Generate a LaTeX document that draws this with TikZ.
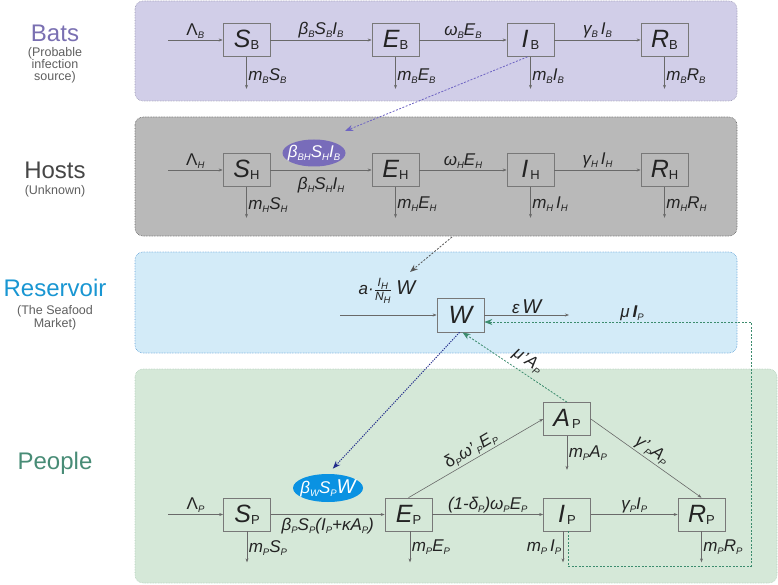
\documentclass[tikz,border=0pt]{standalone}
\usepackage{fontspec}
\setmainfont{Liberation Sans}
\usetikzlibrary{arrows.meta,shapes.geometric}
\definecolor{batsfill}{RGB}{209,206,232}
\definecolor{hostfill}{RGB}{185,185,185}
\definecolor{resfill}{RGB}{211,235,248}
\definecolor{peoplefill}{RGB}{213,232,216}
\definecolor{batsb}{RGB}{150,148,175}
\definecolor{hostb}{RGB}{95,95,95}
\definecolor{resb}{RGB}{95,160,215}
\definecolor{peopleb}{RGB}{175,205,185}
\definecolor{batsc}{RGB}{122,112,178}
\definecolor{hostc}{RGB}{70,70,70}
\definecolor{resc}{RGB}{25,150,210}
\definecolor{peoplec}{RGB}{72,140,118}
\definecolor{subc}{RGB}{95,95,95}
\definecolor{boxc}{RGB}{120,120,120}
\definecolor{linec}{RGB}{105,105,105}
\definecolor{txtc}{RGB}{35,35,35}
\definecolor{bellc}{RGB}{120,108,186}
\definecolor{pellc}{RGB}{10,146,226}
\definecolor{purpc}{RGB}{110,100,195}
\definecolor{greyd}{RGB}{85,85,85}
\definecolor{greend}{RGB}{60,140,110}
\definecolor{blued}{RGB}{35,45,140}
\newcommand\lblf{\fontsize{17}{17}\selectfont\itshape}
\newcommand\sbi[1]{\raisebox{-3pt}{\fontsize{9.5}{9.5}\selectfont\itshape #1}}
\newcommand\sbu[1]{\raisebox{-2pt}{\fontsize{13}{13}\selectfont\upshape #1}}
\newcommand\bxt[2]{{\fontsize{25}{25}\selectfont\itshape #1}\sbu{#2}}
\tikzset{
  cbox/.style={draw=boxc, line width=0.7pt, minimum width=47pt, minimum height=33pt, inner sep=0pt, text=txtc},
  flow/.style={draw=linec, line width=0.6pt, -{Stealth[length=4pt,width=3pt]}},
  lbl/.style={font=\lblf, text=txtc, inner sep=1.5pt},
  panel/.style={rounded corners=8pt, densely dotted, line width=0.6pt},
  ttl/.style={font=\fontsize{24}{24}\selectfont},
  subt/.style={font=\fontsize{12.5}{11.5}\selectfont, text=subc, align=center},
  ell/.style={ellipse, minimum width=63pt, minimum height=27pt, inner sep=0pt, text=white},
  purpd/.style={draw=purpc, line width=0.8pt, dash pattern=on 2pt off 1.5pt, -{Stealth[length=8pt,width=6pt]}},
  greyds/.style={draw=greyd, line width=0.8pt, dash pattern=on 2pt off 1.5pt, -{Stealth[length=8pt,width=6pt]}},
  greends/.style={draw=greend, line width=0.8pt, dash pattern=on 2pt off 1.5pt, -{Stealth[length=8pt,width=6pt]}},
  bluedt/.style={draw=blued, line width=1pt, dash pattern=on 1.2pt off 1.2pt, -{Stealth[length=8pt,width=6pt]}},
}
\begin{document}
\begin{tikzpicture}[x=1pt,y=-1pt]
\useasboundingbox (0,0) rectangle (778,585);
% panels
\draw[panel, draw=batsb, fill=batsfill] (135,1) rectangle (737,101);
\draw[panel, draw=hostb, fill=hostfill] (135,117) rectangle (737,236);
\draw[panel, draw=resb, fill=resfill] (135,252) rectangle (737,353);
\draw[panel, draw=peopleb, fill=peoplefill] (135,369) rectangle (777,583);
% titles
\node[ttl, text=batsc] (tb) at (55,33) {Bats};
\node[subt] (tbs) at (55,65) {(Probable\\infection\\source)};
\node[ttl, text=hostc] (th) at (55,170) {Hosts};
\node[subt] (ths) at (55,191) {(Unknown)};
\node[ttl, text=resc] (tr) at (55,288) {Reservoir};
\node[subt] (trs) at (55,318) {(The Seafood\\Market)};
\node[ttl, text=peoplec] (tp) at (55,463) {People};
% bats row
\node[cbox] (SB) at (246.5,40) {\bxt{S}{B}};
\node[cbox] (EB) at (395.5,40) {\bxt{E}{B}};
\node[cbox] (IB) at (530.5,40) {\bxt{I}{\,B}};
\node[cbox] (RB) at (664.5,40) {\bxt{R}{B}};
\coordinate (inB) at (168,40);
\draw[flow] (inB) -- (SB) node[lbl, midway, above] {{\upshape Λ}\sbi{B}};
\draw[flow] (SB) -- (EB) node[lbl, midway, above] {β\sbi{B}S\sbi{B}I\sbi{B}};
\draw[flow] (EB) -- (IB) node[lbl, midway, above] {ω\sbi{B}E\sbi{B}};
\draw[flow] (IB) -- (RB) node[lbl, midway, above] {γ\sbi{B}\,I\sbi{B}};
\draw[flow] (SB.south) -- ++(0,32) node[lbl, pos=0.6, right] {m\sbi{B}S\sbi{B}};
\draw[flow] (EB.south) -- ++(0,32) node[lbl, pos=0.6, right] {m\sbi{B}E\sbi{B}};
\draw[flow] (IB.south) -- ++(0,32) node[lbl, pos=0.6, right] {m\sbi{B}I\sbi{B}};
\draw[flow] (RB.south) -- ++(0,32) node[lbl, pos=0.6, right] {m\sbi{B}R\sbi{B}};
% hosts row
\node[cbox] (SH) at (246.5,170) {\bxt{S}{H}};
\node[cbox] (EH) at (395.5,170) {\bxt{E}{H}};
\node[cbox] (IH) at (530.5,170) {\bxt{I}{\,H}};
\node[cbox] (RH) at (664.5,170) {\bxt{R}{H}};
\node[ell, fill=bellc, font=\lblf] (bbh) at (314,153) {\makebox[0pt]{β\sbi{BH}S\sbi{H}I\sbi{B}}};
\coordinate (inH) at (168,170);
\draw[flow] (inH) -- (SH) node[lbl, midway, above] {{\upshape Λ}\sbi{H}};
\draw[flow] (SH) -- (EH) node[lbl, midway, below=5pt] {β\sbi{H}S\sbi{H}I\sbi{H}};
\draw[flow] (EH) -- (IH) node[lbl, midway, above] {ω\sbi{H}E\sbi{H}};
\draw[flow] (IH) -- (RH) node[lbl, midway, above] {γ\sbi{H}\,I\sbi{H}};
\draw[flow] (SH.south) -- ++(0,31) node[lbl, pos=0.6, right] {m\sbi{H}S\sbi{H}};
\draw[flow] (EH.south) -- ++(0,31) node[lbl, pos=0.55, right] {m\sbi{H}E\sbi{H}};
\draw[flow] (IH.south) -- ++(0,31) node[lbl, pos=0.55, right] {m\sbi{H}\,I\sbi{H}};
\draw[flow] (RH.south) -- ++(0,31) node[lbl, pos=0.55, right] {m\sbi{H}R\sbi{H}};
\coordinate (bbhtip) at (345,131);
\draw[purpd] ([xshift=-3pt]IB.south) -- (bbhtip);
% reservoir
\coordinate (hr1) at (452,237);
\coordinate (hr2) at (410,272);
\draw[greyds] (hr1) -- (hr2);
\node[cbox, minimum height=34pt] (W) at (460.5,315) {{\fontsize{25}{25}\selectfont\itshape W}};
\coordinate (inW) at (340,315);
\draw[flow] (inW) -- (W);
\node[lbl, text=txtc] (fracl) at (387,291) {a·$\frac{\hbox{\fontsize{12}{12}\selectfont\itshape I\sbi{H}}}{\hbox{\fontsize{12}{12}\selectfont\itshape N\sbi{H}}}$\;{\fontsize{20}{20}\selectfont W}};
\coordinate (outW) at (569,315);
\draw[flow] (W) -- (outW) node[lbl, midway, above] {ε\,{\fontsize{20}{20}\selectfont W}};
\node[lbl] (muI) at (632,313) {μ\,\textbf{I}\sbi{P}};
% people
\node[cbox] (SP) at (247,514.5) {\bxt{S}{P}};
\node[cbox] (EP) at (408.5,514.5) {\bxt{E}{P}};
\node[cbox] (IP) at (567,514.5) {\bxt{I}{\,P}};
\node[cbox] (RP) at (701.5,514.5) {\bxt{R}{P}};
\node[cbox] (AP) at (567,419) {\bxt{A}{\,P}};
\node[ell, fill=pellc, font=\lblf, minimum width=70pt, minimum height=28pt] (bws) at (328,488) {\makebox[0pt]{β\sbi{W}S\sbi{P}{\fontsize{20}{20}\selectfont W}}};
\coordinate (inP) at (168,514.5);
\draw[flow] (inP) -- (SP) node[lbl, midway, above] {{\upshape Λ}\sbi{P}};
\draw[flow] (SP) -- (EP) node[lbl, midway, below=2pt] {β\sbi{P}S\sbi{P}(I\sbi{P}+κA\sbi{P})};
\draw[flow] (EP) -- (IP) node[lbl, midway, above] {(1-δ\sbi{P})ω\sbi{P}E\sbi{P}};
\draw[flow] (IP) -- (RP) node[lbl, midway, above] {γ\sbi{P}I\sbi{P}};
\draw[flow] (EP.north) -- (AP.west) node[lbl, midway, sloped, above] {{\upshape δ}\sbi{P}ω’\kern1pt\sbi{P}E\sbi{P}};
\draw[flow] (AP.east) -- (RP.north) node[lbl, midway, sloped, above] {γ’\kern1pt\sbi{P}A\sbi{P}};
\draw[flow] (SP.south) -- ++(0,31) node[lbl, pos=0.55, right] {m\sbi{P}S\sbi{P}};
\draw[flow] ([xshift=1.5pt]EP.south) -- ++(0,31) node[lbl, pos=0.52, right] {m\sbi{P}E\sbi{P}};
\draw[flow] ([xshift=-4pt]IP.south) -- ++(0,31) node[lbl, pos=0.52, left] {m\sbi{P}\,I\sbi{P}};
\draw[flow] (RP.south) -- ++(0,31) node[lbl, pos=0.52, right] {m\sbi{P}R\sbi{P}};
\draw[flow] (AP.south) -- ++(0,34) node[lbl, pos=0.5, right] {m\sbi{P}A\sbi{P}};
% cross-panel connectors
\coordinate (lpc) at (751,566);
\draw[greends] ([xshift=1pt]IP.south) |- (lpc) |- ([yshift=-7pt]W.east);
\draw[greends] (AP.north) -- ([xshift=2pt]W.south);
\path ([xshift=2pt]W.south) -- (AP.north) node[lbl, pos=0.56, sloped, above=3pt] {μ’\kern1pt A\sbi{P}};
\draw[bluedt, shorten >=7pt] ([xshift=-1pt]W.south) -- (bws.north);
\end{tikzpicture}
\end{document}
